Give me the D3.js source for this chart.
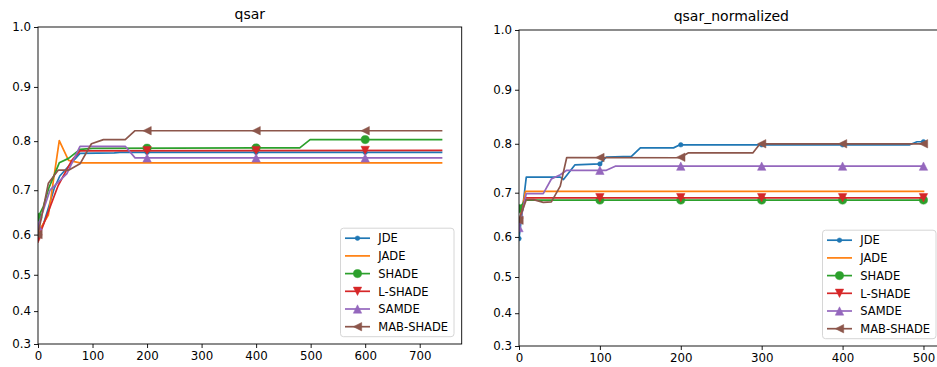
<!DOCTYPE html>
<html lang="en">
<head>
<meta charset="utf-8">
<title>qsar</title>
<script src="https://cdn.jsdelivr.net/npm/d3@7"></script>
<style>
  body { margin: 0; background: #fff; }
  svg { display: block; font-family: "DejaVu Sans", sans-serif; }
  .tick text { font-size: 11.8px; fill: #000; font-family: "DejaVu Sans", sans-serif; }
  .tick line, .domain { stroke: #000; stroke-width: 0.9; }
</style>
</head>
<body>
<script>
// series names, colours and marker kinds
var names = ["JDE", "JADE", "SHADE", "L-SHADE", "SAMDE", "MAB-SHADE"];
var colors = ["#1f77b4", "#ff7f0e", "#2ca02c", "#d62728", "#9467bd", "#8c564b"];
var markers = ["point", "none", "circle", "down", "up", "left"];

var yTicks = [0.3, 0.4, 0.5, 0.6, 0.7, 0.8, 0.9, 1.0];
var qsarTicks = [0, 100, 200, 300, 400, 500, 600, 700];
var normTicks = [0, 100, 200, 300, 400, 500];

// left panel: qsar  ([iteration, value])
var qsarJDE = [[0,0.600],[10,0.625],[20,0.665],[30,0.705],[40,0.730],[56,0.750],[77,0.776],[140,0.777],[150,0.778],[740,0.778]];
var qsarJADE = [[0,0.600],[7,0.620],[19,0.645],[39,0.801],[56,0.762],[77,0.757],[740,0.757]];
var qsarSHADE = [[0,0.640],[10,0.665],[20,0.705],[39,0.757],[56,0.766],[77,0.784],[100,0.786],[480,0.787],[499,0.803],[740,0.803]];
var qsarLSHADE = [[0,0.590],[15,0.640],[37,0.710],[62,0.762],[77,0.781],[740,0.782]];
var qsarSAMDE = [[0,0.620],[22,0.700],[53,0.735],[77,0.790],[160,0.790],[178,0.767],[740,0.767]];
var qsarMAB = [[0,0.600],[19,0.715],[37,0.742],[56,0.742],[77,0.755],[98,0.795],[120,0.803],[160,0.803],[178,0.820],[740,0.820]];
var qsarMarks = [0, 200, 400, 600];

// right panel: qsar_normalized
var normJDE = [[0,0.596],[9,0.733],[51,0.733],[55,0.728],[69,0.758],[100,0.760],[108,0.774],[139,0.775],[150,0.792],[191,0.792],[199,0.798],[483,0.798],[492,0.804],[500,0.804]];
var normJADE = [[0,0.630],[8,0.703],[500,0.703]];
var normSHADE = [[0,0.665],[8,0.684],[500,0.684]];
var normLSHADE = [[0,0.635],[8,0.689],[500,0.689]];
var normSAMDE = [[0,0.622],[9,0.698],[30,0.698],[40,0.729],[51,0.738],[59,0.747],[108,0.747],[119,0.7555],[500,0.7555]];
var normMAB = [[0,0.639],[9,0.685],[18,0.685],[30,0.679],[40,0.680],[51,0.714],[59,0.773],[199,0.7725],[209,0.782],[289,0.782],[298,0.800],[500,0.800]];
var normMarks = [0, 100, 200, 300, 400, 500];

var w = 937, h = 367;
var svg = d3.select("body").append("svg").attr("width", w).attr("height", h);

function valueAt(data, x) {
  for (var i = 1; i < data.length; i++) {
    if (x <= data[i][0]) {
      var a = data[i-1], b = data[i];
      return a[1] + (b[1]-a[1]) * (x-a[0]) / (b[0]-a[0]);
    }
  }
  return data[data.length-1][1];
}

function markerPath(kind, s) {
  var r = s/2;
  if (kind == "down") return "M0," + r + "L" + r + "," + (-r) + "L" + (-r) + "," + (-r) + "Z";
  if (kind == "up") return "M0," + (-r) + "L" + r + "," + r + "L" + (-r) + "," + r + "Z";
  if (kind == "left") return "M" + (-r) + ",0L" + r + "," + (-r) + "L" + r + "," + r + "Z";
  return null;
}

function drawMarker(g, kind, color, x, y) {
  if (kind == "none") return;
  if (kind == "point" || kind == "circle") {
    g.append("circle").attr("cx", x).attr("cy", y)
      .attr("r", kind == "point" ? 2.3 : 4.1)
      .attr("fill", color).attr("stroke", color).attr("stroke-width", 0.5);
  } else {
    g.append("path").attr("d", markerPath(kind, 8.4))
      .attr("transform", "translate(" + x + "," + y + ")")
      .attr("fill", color).attr("stroke", color).attr("stroke-width", 0.5);
  }
}

function drawPanel(p) {
  var x = d3.scaleLinear().domain(p.xDomain).range([p.left, p.right]);
  // the y axis is spaced by exp(value)
  var y = d3.scaleLinear().domain([Math.exp(0.3), Math.exp(1.0)]).range([p.bottom, p.top]);
  var Y = function(v) { return y(Math.exp(v)); };

  var g = svg.append("g");
  var clipId = "clip" + p.id;
  g.append("clipPath").attr("id", clipId).append("rect")
    .attr("x", p.left).attr("y", p.top).attr("width", p.right-p.left).attr("height", p.bottom-p.top);

  var plot = g.append("g").attr("clip-path", "url(#" + clipId + ")");
  var line = d3.line().x(d => x(d[0])).y(d => Y(d[1]));

  p.series.forEach(function(data, i) {
    plot.append("path").datum(data)
      .attr("d", line)
      .attr("fill", "none")
      .attr("stroke", colors[i])
      .attr("stroke-width", 1.7)
      .attr("stroke-linejoin", "round")
      .attr("stroke-linecap", "square");
    p.marks.forEach(function(m) {
      drawMarker(plot, markers[i], colors[i], x(m), Y(valueAt(data, m)));
    });
  });

  // frame
  g.append("rect").attr("x", p.left).attr("y", p.top)
    .attr("width", p.right-p.left).attr("height", p.bottom-p.top)
    .attr("fill", "none").attr("stroke", "#000").attr("stroke-width", 0.9);

  g.append("g").attr("transform", "translate(0," + p.bottom + ")")
    .call(d3.axisBottom(x).tickValues(p.xTicks).tickSize(4).tickPadding(4).tickFormat(d3.format("d")));
  g.append("g").attr("transform", "translate(" + p.left + ",0)")
    .call(d3.axisLeft(y).tickValues(yTicks.map(Math.exp)).tickSize(4).tickPadding(3)
      .tickFormat(d => d3.format(".1f")(Math.log(d))));
  g.selectAll(".domain").remove();

  g.append("text")
    .attr("x", (p.left + p.right)/2)
    .attr("y", p.titleY)
    .attr("text-anchor", "middle")
    .style("font-size", "14px")
    .text(p.title);

  // legend, lower right
  var lw = 113.5, lh = 108.5;
  var lx = p.right - 7.7 - lw, ly = p.bottom - 7.3 - lh;
  var legend = g.append("g");
  legend.append("rect").attr("x", lx).attr("y", ly).attr("width", lw).attr("height", lh)
    .attr("rx", 3).attr("fill", "#fff").attr("fill-opacity", 0.8)
    .attr("stroke", "#d6d6d6").attr("stroke-width", 1);
  names.forEach(function(name, i) {
    var ey = ly + 10 + i*17.7;
    legend.append("line")
      .attr("x1", lx + 4.5).attr("x2", lx + 29.5).attr("y1", ey).attr("y2", ey)
      .attr("stroke", colors[i]).attr("stroke-width", 1.7);
    drawMarker(legend, markers[i], colors[i], lx + 17, ey);
    legend.append("text")
      .attr("x", lx + 37.8).attr("y", ey + 4.2)
      .style("font-size", "11.5px")
      .text(name);
  });
}

drawPanel({
  id: "a", title: "qsar", titleY: 18.5,
  left: 38, right: 461.7, top: 27, bottom: 344,
  xDomain: [0, 777], xTicks: qsarTicks, marks: qsarMarks,
  series: [qsarJDE, qsarJADE, qsarSHADE, qsarLSHADE, qsarSAMDE, qsarMAB]
});

drawPanel({
  id: "b", title: "qsar_normalized", titleY: 21,
  left: 519, right: 943.7, top: 30, bottom: 346,
  xDomain: [0, 525], xTicks: normTicks, marks: normMarks,
  series: [normJDE, normJADE, normSHADE, normLSHADE, normSAMDE, normMAB]
});
</script>
</body>
</html>
